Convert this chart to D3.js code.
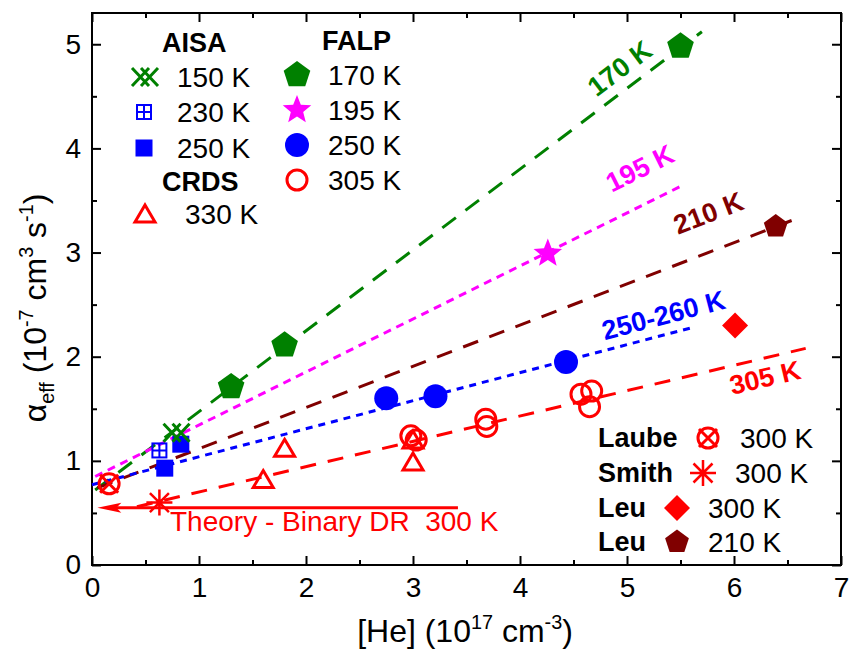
<!DOCTYPE html>
<html lang="en">
<head>
<meta charset="utf-8">
<title>Effective recombination coefficient vs [He]</title>
<script src="https://cdn.jsdelivr.net/npm/d3@7"></script>
<style>
  body { margin: 0; background: #fff; }
  svg { display: block; font-family: "Liberation Sans", Arial, sans-serif; }
  text { white-space: pre; }
</style>
</head>
<body>
<script>

// ---- data ----
var xTicks = [0, 1, 2, 3, 4, 5, 6, 7];
var xMinor = [0.5, 1.5, 2.5, 3.5, 4.5, 5.5, 6.5];
var yTicks = [0, 1, 2, 3, 4, 5];
var yMinor = [0.5, 1.5, 2.5, 3.5, 4.5];

var aisa150 = [[0.79, 1.27]];
var aisa230 = [[0.63, 1.10]];
var aisa250 = [[0.68, 0.93], [0.83, 1.16]];
var crds330 = [[1.60, 0.82], [1.80, 1.12], [3.00, 1.20], [3.00, 0.99]];
var falp170 = [[1.30, 1.71], [1.80, 2.11], [5.50, 4.98]];
var falp195 = [[4.26, 2.99]];
var falp250 = [[2.75, 1.60], [3.21, 1.62], [4.43, 1.95]];
var falp305 = [[2.98, 1.24], [3.03, 1.20], [3.68, 1.40], [3.69, 1.33],
               [4.57, 1.64], [4.67, 1.67], [4.65, 1.52]];
var laube300 = [[0.16, 0.78]];
var smith300 = [[0.63, 0.60]];
var leu300 = [[6.01, 2.30]];
var leu210 = [[6.39, 3.25]];

// fitted lines: [x0, y0, x1, y1]
var fit170 = [0.03, 0.72, 5.70, 5.12];
var fit195 = [0.03, 0.85, 5.51, 3.64];
var fit210 = [0.05, 0.74, 6.62, 3.34];
var fit250 = [0.00, 0.77, 5.61, 2.28];
var fit305 = [0.42, 0.56, 6.67, 2.08];
var theory = [0.05, 0.55, 3.42, 0.55];

// line labels: [text, x, y]
var lab170 = ["170 K", 4.93, 4.77];
var lab195 = ["195 K", 5.12, 3.81];
var lab210 = ["210 K", 5.76, 3.38];
var lab250 = ["250-260 K", 5.34, 2.40];
var lab305 = ["305 K", 6.29, 1.80];

var width = 850, height = 652;
var green = "#008000", blue = "#0000ff", magenta = "#ff00ff", red = "#ff0000", maroon = "#800000";

var x = d3.scaleLinear().domain([0, 7]).range([92, 841]);
var y = d3.scaleLinear().domain([0, 5.3]).range([565, 13]);

var svg = d3.select("body").append("svg")
    .attr("width", width)
    .attr("height", height);

// axes, ticks pointing inward on all four sides
function styleAxis(g) {
    g.select(".domain").remove();
    g.selectAll("line").attr("stroke", "#000").attr("stroke-width", 2);
    g.selectAll("text").attr("font-size", 28).attr("fill", "#000")
        .attr("font-family", "Liberation Sans, Arial, sans-serif");
}

svg.append("g").attr("transform", "translate(0,565)")
    .call(d3.axisBottom(x).tickValues(xTicks).tickSize(-9).tickPadding(12).tickFormat(d3.format("d")))
    .call(styleAxis);
svg.append("g").attr("transform", "translate(0,565)")
    .call(d3.axisBottom(x).tickValues(xMinor).tickSize(-5).tickFormat(""))
    .call(styleAxis);
svg.append("g").attr("transform", "translate(0,13)")
    .call(d3.axisTop(x).tickValues(xTicks).tickSize(-9).tickFormat(""))
    .call(styleAxis);
svg.append("g").attr("transform", "translate(0,13)")
    .call(d3.axisTop(x).tickValues(xMinor).tickSize(-5).tickFormat(""))
    .call(styleAxis);
svg.append("g").attr("transform", "translate(92,0)")
    .call(d3.axisLeft(y).tickValues(yTicks).tickSize(-9).tickPadding(11).tickFormat(d3.format("d")))
    .call(styleAxis);
svg.append("g").attr("transform", "translate(92,0)")
    .call(d3.axisLeft(y).tickValues(yMinor).tickSize(-5).tickFormat(""))
    .call(styleAxis);
svg.append("g").attr("transform", "translate(841,0)")
    .call(d3.axisRight(y).tickValues(yTicks).tickSize(-9).tickFormat(""))
    .call(styleAxis);
svg.append("g").attr("transform", "translate(841,0)")
    .call(d3.axisRight(y).tickValues(yMinor).tickSize(-5).tickFormat(""))
    .call(styleAxis);

svg.append("rect")
    .attr("x", x(0)).attr("y", y(5.3))
    .attr("width", x(7) - x(0)).attr("height", y(0) - y(5.3))
    .attr("fill", "none").attr("stroke", "#000").attr("stroke-width", 2);

// text with sub/superscripts
function rich(t, parts, size) {
    var cur = 0;
    parts.forEach(function(p) {
        var shift = p[1] === "sup" ? -0.4 * size : p[1] === "sub" ? 0.25 * size : 0;
        t.append("tspan")
            .attr("font-size", p[1] ? size * 0.62 : size)
            .attr("dy", shift - cur)
            .text(p[0]);
        cur = shift;
    });
}

var xTitle = svg.append("text")
    .attr("x", 465).attr("y", 642)
    .attr("text-anchor", "middle");
rich(xTitle, [["[He] (10"], ["17", "sup"], [" cm"], ["-3", "sup"], [")"]], 32);

var yTitle = svg.append("text")
    .attr("transform", "translate(46,308) rotate(-90)")
    .attr("text-anchor", "middle");
rich(yTitle, [["\u03b1"], ["eff", "sub"], [" (10"], ["-7", "sup"], [" cm"], ["3", "sup"],
              [" s"], ["-1", "sup"], [")"]], 32);

// fitted lines
function fitLine(f, color, dash) {
    svg.append("line")
        .attr("x1", x(f[0])).attr("y1", y(f[1]))
        .attr("x2", x(f[2])).attr("y2", y(f[3]))
        .attr("stroke", color).attr("stroke-width", 3)
        .attr("stroke-dasharray", dash);
}
fitLine(fit170, green, "17,12");
fitLine(fit195, magenta, "8,6");
fitLine(fit210, maroon, "16,12");
fitLine(fit250, blue, "7,6");
fitLine(fit305, red, "16,12");

function lineLabel(l, f, color) {
    var ang = Math.atan2(y(f[3]) - y(f[1]), x(f[2]) - x(f[0])) * 180 / Math.PI;
    svg.append("text")
        .attr("transform", "translate(" + x(l[1]) + "," + y(l[2]) + ") rotate(" + ang + ")")
        .attr("text-anchor", "middle").attr("dy", "0.35em")
        .attr("font-size", 27).attr("font-weight", "bold")
        .attr("fill", color).text(l[0]);
}
lineLabel(lab170, fit170, green);
lineLabel(lab195, fit195, magenta);
lineLabel(lab210, fit210, maroon);
lineLabel(lab250, fit250, blue);
lineLabel(lab305, fit305, red);

// theory line with arrow
svg.append("line")
    .attr("x1", x(theory[0]) + 10).attr("y1", y(theory[1]))
    .attr("x2", x(theory[2])).attr("y2", y(theory[3]))
    .attr("stroke", red).attr("stroke-width", 3);
svg.append("path")
    .attr("d", "M" + x(theory[0]) + "," + y(theory[1]) + "l24,-5l-5,5l5,5z")
    .attr("fill", red);
svg.append("text")
    .attr("x", 170).attr("y", 531)
    .attr("font-size", 28).attr("fill", red)
    .text("Theory - Binary DR  300 K");

// marker shapes
function poly(n, r, r2) {
    var pts = [];
    var k = r2 ? 2 * n : n;
    for (var i = 0; i < k; i++) {
        var a = -Math.PI / 2 + i * Math.PI * 2 / k;
        var rr = (r2 && i % 2) ? r2 : r;
        pts.push([rr * Math.cos(a), rr * Math.sin(a)]);
    }
    return "M" + pts.join("L") + "Z";
}

function marker(type, cx, cy) {
    var g = svg.append("g").attr("transform", "translate(" + cx + "," + cy + ")");
    if (type === "xx") {
        [-4.5, 4.5].forEach(function(o) {
            g.append("path")
                .attr("d", "M" + (o - 8.5) + ",-9L" + (o + 8.5) + ",9M" + (o - 8.5) + ",9L" + (o + 8.5) + ",-9")
                .attr("stroke", green).attr("stroke-width", 3).attr("fill", "none");
        });
    } else if (type === "sqplus") {
        g.append("rect").attr("x", -7).attr("y", -7).attr("width", 14).attr("height", 14)
            .attr("fill", "none").attr("stroke", blue).attr("stroke-width", 2);
        g.append("path").attr("d", "M-7,0H7M0,-7V7").attr("stroke", blue).attr("stroke-width", 2);
    } else if (type === "sq") {
        g.append("rect").attr("x", -8.5).attr("y", -8.5).attr("width", 17).attr("height", 17).attr("fill", blue);
    } else if (type === "tri") {
        g.append("path").attr("d", "M0,-9L10,8L-10,8Z")
            .attr("fill", "none").attr("stroke", red).attr("stroke-width", 3);
    } else if (type === "pent") {
        g.append("path").attr("d", poly(5, 14)).attr("fill", green);
    } else if (type === "pentd") {
        g.append("path").attr("d", poly(5, 12.5)).attr("fill", maroon);
    } else if (type === "star") {
        g.append("path").attr("d", poly(5, 15, 6.5)).attr("fill", magenta);
    } else if (type === "circ") {
        g.append("circle").attr("r", 12).attr("fill", blue);
    } else if (type === "ocirc") {
        g.append("circle").attr("r", 10).attr("fill", "none").attr("stroke", red).attr("stroke-width", 3);
    } else if (type === "laube") {
        g.append("circle").attr("r", 10).attr("fill", "none").attr("stroke", red).attr("stroke-width", 3);
        g.append("path").attr("d", "M-9,-9L9,9M-9,9L9,-9").attr("stroke", red).attr("stroke-width", 3);
    } else if (type === "smith") {
        g.append("path").attr("d", "M-13,0H13M0,-13V13M-9.5,-9.5L9.5,9.5M-9.5,9.5L9.5,-9.5")
            .attr("stroke", red).attr("stroke-width", 2.5);
    } else if (type === "diamond") {
        g.append("path").attr("d", "M0,-13L13,0L0,13L-13,0Z").attr("fill", red);
    }
}

function series(data, type) {
    data.forEach(function(d) { marker(type, x(d[0]), y(d[1])); });
}
series(falp170, "pent");
series(falp195, "star");
series(falp250, "circ");
series(falp305, "ocirc");
series(crds330, "tri");
series(aisa250, "sq");
series(aisa230, "sqplus");
series(aisa150, "xx");
series(laube300, "laube");
series(smith300, "smith");
series(leu300, "diamond");
series(leu210, "pentd");

// legends
function legText(tx, ty, s, bold) {
    svg.append("text").attr("x", tx).attr("y", ty).attr("dy", "0.35em")
        .attr("font-size", bold ? 27 : 28).attr("font-weight", bold ? "bold" : "normal").text(s);
}
legText(162, 43, "AISA", true);
marker("xx", 145, 77); legText(177, 77, "150 K");
marker("sqplus", 144, 112); legText(177, 112, "230 K");
marker("sq", 144, 148); legText(177, 148, "250 K");
legText(162, 182, "CRDS", true);
marker("tri", 145, 214); legText(185, 214, "330 K");

legText(322, 41, "FALP", true);
marker("pent", 297, 75); legText(328, 75, "170 K");
marker("star", 297, 110); legText(328, 110, "195 K");
marker("circ", 297, 145); legText(328, 145, "250 K");
marker("ocirc", 297, 180); legText(328, 180, "305 K");

legText(598, 438, "Laube", true); marker("laube", 708, 438); legText(740, 438, "300 K");
legText(598, 473, "Smith", true); marker("smith", 703, 473); legText(735, 473, "300 K");
legText(598, 508, "Leu", true); marker("diamond", 677, 508); legText(708, 508, "300 K");
legText(598, 542, "Leu", true); marker("pentd", 677, 542); legText(708, 542, "210 K");

</script>
</body>
</html>
